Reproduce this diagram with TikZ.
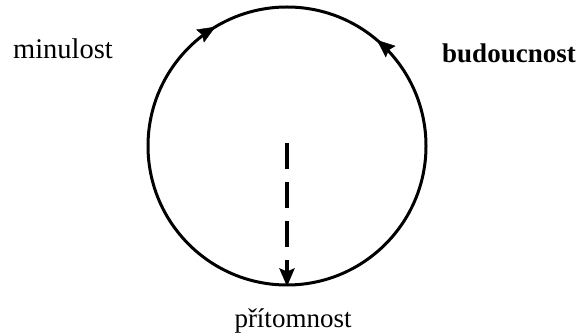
\documentclass[tikz,border=0pt]{standalone}
\usepackage{fontspec}
\setmainfont{Liberation Serif}
\usetikzlibrary{arrows.meta,decorations.markings}
\begin{document}
\begin{tikzpicture}[x=1pt,y=-1pt,
  lbl/.style={anchor=base,inner sep=0pt,font=\fontsize{27}{31}\selectfont},
  ring/.style={circle,draw,line width=3pt,minimum size=278pt,inner sep=0pt}]
\useasboundingbox (0,0) rectangle (578,336);
\node[ring] (c) at (287,146) {};
\path[postaction={decorate},
  decoration={markings,
    mark=at position 0.664 with {\arrow{Stealth[length=18pt,width=15pt,inset=2.5pt]}},
    mark=at position 0.862 with {\arrowreversed{Stealth[length=18pt,width=15pt,inset=2.5pt]}}}]
  (c.center) circle[radius=139];
\coordinate (o) at (287,143);
\draw[line width=3.5pt,dash pattern=on 26pt off 13pt,-{Stealth[length=18pt,width=15pt,inset=3pt]}] (o) -- (c.south);
\node[lbl,font=\fontsize{28.5}{32}\selectfont] (m) at (63,59) {minulost};
\node[lbl,font=\fontsize{27}{31}\selectfont\bfseries] (b) at (509,63) {budoucnost};
\node[lbl] (p) at (293,328) {přítomnost};
\end{tikzpicture}
\end{document}
